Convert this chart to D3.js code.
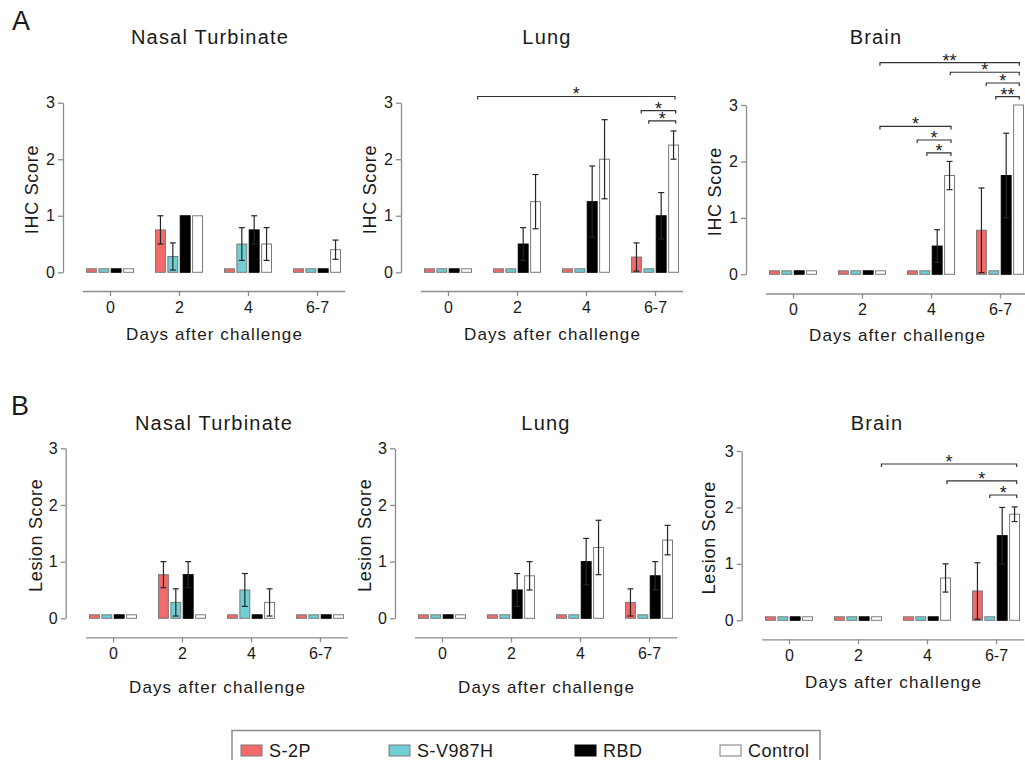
<!DOCTYPE html>
<html>
<head>
<meta charset="utf-8">
<script src="https://cdn.jsdelivr.net/npm/d3@7"></script>
<style>
  body { margin: 0; background: #fff; }
  text { font-family: "Liberation Sans", Arial, Helvetica, sans-serif; fill: #1a1a1a; }
</style>
</head>
<body>
<script>
// categories
var days = ["0", "2", "4", "6-7"];
var series = ["S-2P", "S-V987H", "RBD", "Control"];
var colors = ["#f26a6a", "#6fcfd4", "#000000", "#ffffff"];
var yTicks = [0, 1, 2, 3];

// one row per series, one value per day
var ihcNasalMean = [[0, 0.75, 0, 0], [0, 0.28, 0.5, 0], [0, 1, 0.75, 0], [0, 1, 0.5, 0.4]];
var ihcNasalErr  = [[0, 0.25, 0, 0], [0, 0.24, 0.29, 0], [0, 0, 0.25, 0], [0, 0, 0.29, 0.17]];
var ihcLungMean  = [[0, 0, 0, 0.27], [0, 0, 0, 0], [0, 0.5, 1.25, 1.0], [0, 1.25, 2.0, 2.25]];
var ihcLungErr   = [[0, 0, 0, 0.25], [0, 0, 0, 0], [0, 0.29, 0.63, 0.41], [0, 0.48, 0.7, 0.25]];
var ihcBrainMean = [[0, 0, 0, 0.78], [0, 0, 0, 0], [0, 0, 0.5, 1.75], [0, 0, 1.75, 3.0]];
var ihcBrainErr  = [[0, 0, 0, 0.75], [0, 0, 0, 0], [0, 0, 0.29, 0.75], [0, 0, 0.25, 0]];
var lesNasalMean = [[0, 0.77, 0, 0], [0, 0.28, 0.5, 0], [0, 0.77, 0, 0], [0, 0, 0.28, 0]];
var lesNasalErr  = [[0, 0.23, 0, 0], [0, 0.24, 0.29, 0], [0, 0.23, 0, 0], [0, 0, 0.24, 0]];
var lesLungMean  = [[0, 0, 0, 0.28], [0, 0, 0, 0], [0, 0.5, 1.0, 0.75], [0, 0.75, 1.25, 1.38]];
var lesLungErr   = [[0, 0, 0, 0.24], [0, 0, 0, 0], [0, 0.29, 0.41, 0.25], [0, 0.25, 0.48, 0.26]];
var lesBrainMean = [[0, 0, 0, 0.52], [0, 0, 0, 0], [0, 0, 0, 1.5], [0, 0, 0.75, 1.88]];
var lesBrainErr  = [[0, 0, 0, 0.5], [0, 0, 0, 0], [0, 0, 0, 0.5], [0, 0, 0.25, 0.13]];

// significance brackets: [from day-index, to day-index, score level, label]
var ihcLungSig = [[0.43, 3.29, 3.11, "*"], [2.80, 3.30, 2.86, "*"], [2.91, 3.30, 2.68, "*"]];
var ihcBrainSig = [[1.26, 3.28, 3.75, "**"], [2.28, 3.28, 3.58, "*"], [2.80, 3.28, 3.39, "*"],
                   [2.94, 3.28, 3.15, "**"], [1.26, 2.29, 2.62, "*"], [1.80, 2.29, 2.38, "*"],
                   [1.94, 2.29, 2.15, "*"]];
var lesBrainSig = [[1.34, 3.30, 2.77, "*"], [2.29, 3.30, 2.47, "*"], [2.91, 3.30, 2.22, "*"]];

var panels = [
  {title: "Nasal Turbinate", ylab: "IHC Score", mean: ihcNasalMean, err: ihcNasalErr, sig: [],
   ax: 63, y0: 272.3, y3: 102.7, t0: 110, xAxisY: 291, titleX: 210, titleY: 44, ylabX: 38, xlabY: 340},
  {title: "Lung", ylab: "IHC Score", mean: ihcLungMean, err: ihcLungErr, sig: ihcLungSig,
   ax: 401, y0: 272.3, y3: 102.7, t0: 448, xAxisY: 291, titleX: 547, titleY: 44, ylabX: 376, xlabY: 340},
  {title: "Brain", ylab: "IHC Score", mean: ihcBrainMean, err: ihcBrainErr, sig: ihcBrainSig,
   ax: 746, y0: 274.3, y3: 105, t0: 793, xAxisY: 293.5, titleX: 876, titleY: 44, ylabX: 721, xlabY: 341},
  {title: "Nasal Turbinate", ylab: "Lesion Score", mean: lesNasalMean, err: lesNasalErr, sig: [],
   ax: 65.7, y0: 618.3, y3: 448.3, t0: 113, xAxisY: 637.3, titleX: 214, titleY: 430, ylabX: 42, xlabY: 693},
  {title: "Lung", ylab: "Lesion Score", mean: lesLungMean, err: lesLungErr, sig: [],
   ax: 395, y0: 618.3, y3: 448.3, t0: 442, xAxisY: 637.3, titleX: 546, titleY: 430, ylabX: 371, xlabY: 693},
  {title: "Brain", ylab: "Lesion Score", mean: lesBrainMean, err: lesBrainErr, sig: lesBrainSig,
   ax: 741.7, y0: 620.3, y3: 451, t0: 789, xAxisY: 639.3, titleX: 877, titleY: 430, ylabX: 715, xlabY: 688}
];

var width = 1025, height = 760;
var axisColor = "#8c8c8c";

var svg = d3.select("body").append("svg")
  .attr("width", width)
  .attr("height", height);

svg.append("rect").attr("width", width).attr("height", height).attr("fill", "#fff");

svg.append("text").attr("x", 12).attr("y", 30).style("font-size", "27px").text("A");
svg.append("text").attr("x", 11).attr("y", 415).style("font-size", "27px").text("B");

panels.forEach(function(p) {
  var g = svg.append("g");
  var step = 69;
  var x = d3.scalePoint().domain(days)
    .range([p.t0 - 0.4 * step, p.t0 + 3.4 * step]).padding(0.4);
  var xi = d3.scaleLinear().domain([0, 3]).range([x(days[0]), x(days[3])]);
  var sub = d3.scaleBand().domain(series).range([-23.5, 23.5]).paddingInner(0.2);
  var y = d3.scaleLinear().domain([0, 3]).range([p.y0, p.y3]);

  // title
  g.append("text")
    .attr("x", p.titleX).attr("y", p.titleY)
    .attr("text-anchor", "middle")
    .style("font-size", "20px").style("letter-spacing", "1.2px")
    .text(p.title);

  // y axis
  var ya = g.append("g").attr("transform", "translate(" + p.ax + ",0)")
    .call(d3.axisLeft(y).tickValues(yTicks).tickSize(5).tickSizeOuter(0).tickPadding(3)
      .tickFormat(d3.format("d")));
  ya.select(".domain").attr("stroke", axisColor).attr("stroke-width", 1.3);
  ya.selectAll(".tick line").attr("stroke", axisColor).attr("stroke-width", 1.3);
  ya.selectAll(".tick text").style("font-size", "16px").attr("fill", "#1a1a1a");

  // x axis
  var xa = g.append("g").attr("transform", "translate(0," + p.xAxisY + ")")
    .call(d3.axisBottom(x).tickSize(5).tickSizeOuter(0).tickPadding(5.5));
  xa.select(".domain").attr("stroke", axisColor).attr("stroke-width", 1.3);
  xa.selectAll(".tick line").attr("stroke", axisColor).attr("stroke-width", 1.3);
  xa.selectAll(".tick text").style("font-size", "16px").attr("fill", "#1a1a1a");

  // axis labels
  g.append("text")
    .attr("transform", "translate(" + p.ylabX + "," + ((p.y0 + p.y3) / 2 + 2) + ") rotate(-90)")
    .attr("text-anchor", "middle")
    .style("font-size", "18px").style("letter-spacing", "0.7px")
    .text(p.ylab);
  g.append("text")
    .attr("x", (x(days[0]) + x(days[3])) / 2 + 1).attr("y", p.xlabY)
    .attr("text-anchor", "middle")
    .style("font-size", "17px").style("letter-spacing", "1.1px")
    .text("Days after challenge");

  // bars
  var rows = [];
  series.forEach(function(s, si) {
    days.forEach(function(d, di) {
      rows.push({s: s, si: si, d: d, v: p.mean[si][di], e: p.err[si][di]});
    });
  });

  g.selectAll("rect.bar").data(rows).enter().append("rect")
    .attr("class", "bar")
    .attr("x", function(r) { return x(r.d) + sub(r.s); })
    .attr("width", sub.bandwidth())
    .attr("y", function(r) { return Math.min(y(r.v), p.y0 - 3.5); })
    .attr("height", function(r) { return Math.max(p.y0 - y(r.v), 3.5); })
    .attr("fill", function(r) { return colors[r.si]; })
    .attr("stroke", function(r) { return r.si === 2 ? "#000" : "#7a7a7a"; })
    .attr("stroke-width", 1);

  // error bars
  var eb = g.selectAll("g.err").data(rows.filter(function(r) { return r.e > 0; }))
    .enter().append("g").attr("class", "err")
    .attr("stroke", "#262626").attr("stroke-width", 1.2);
  function cx(r) { return x(r.d) + sub(r.s) + sub.bandwidth() / 2; }
  eb.append("line")
    .attr("x1", cx).attr("x2", cx)
    .attr("y1", function(r) { return y(r.v - r.e); })
    .attr("y2", function(r) { return y(r.v + r.e); });
  [-1, 1].forEach(function(k) {
    eb.append("line")
      .attr("x1", function(r) { return cx(r) - 3; })
      .attr("x2", function(r) { return cx(r) + 3; })
      .attr("y1", function(r) { return y(r.v + k * r.e); })
      .attr("y2", function(r) { return y(r.v + k * r.e); });
  });

  // significance brackets
  var sg = g.selectAll("g.sig").data(p.sig).enter().append("g").attr("class", "sig");
  sg.append("path")
    .attr("fill", "none").attr("stroke", "#333").attr("stroke-width", 1.2)
    .attr("d", function(b) {
      var yy = y(b[2]);
      return "M" + xi(b[0]) + "," + (yy + 3) + "V" + yy + "H" + xi(b[1]) + "V" + (yy + 3);
    });
  sg.append("text")
    .attr("x", function(b) { return (xi(b[0]) + xi(b[1])) / 2; })
    .attr("y", function(b) { return y(b[2]) + 4; })
    .attr("text-anchor", "middle")
    .style("font-size", "18px")
    .text(function(b) { return b[3]; });
});

// legend
var legendX = [241, 389, 575, 720];
svg.append("rect")
  .attr("x", 232).attr("y", 730.5).attr("width", 588).attr("height", 40)
  .attr("fill", "none").attr("stroke", "#8c8c8c").attr("stroke-width", 1.5);
var lg = svg.selectAll("g.leg").data(series).enter().append("g").attr("class", "leg")
  .attr("transform", function(d, i) { return "translate(" + legendX[i] + ",745)"; });
lg.append("rect")
  .attr("width", 21).attr("height", 11)
  .attr("fill", function(d, i) { return colors[i]; })
  .attr("stroke", function(d, i) { return i === 2 ? "#000" : "#7a7a7a"; });
lg.append("text")
  .attr("x", 28).attr("y", 11.5)
  .style("font-size", "18px").style("letter-spacing", "0.5px")
  .text(function(d) { return d; });
</script>
</body>
</html>
